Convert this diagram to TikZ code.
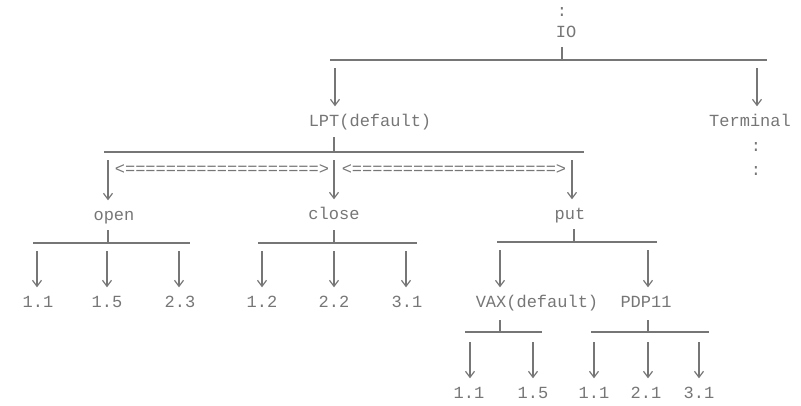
\documentclass[tikz,border=0pt]{standalone}
\usepackage{fontspec}
\newfontfamily\monofnt{Liberation Mono}
\usetikzlibrary{arrows.meta}
\definecolor{ink}{RGB}{118,118,118}
\tikzset{
  lbl/.style={font=\monofnt\fontsize{17}{17}\selectfont, text=ink, inner sep=0pt, text height=11pt, text depth=0pt, anchor=center},
  bar/.style={draw=ink, line width=1.2pt},
  arr/.style={draw=ink, line width=1.2pt, -{Straight Barb[length=6pt,width=9pt]}, shorten >=9pt},
}
\begin{document}
\begin{tikzpicture}[x=1pt,y=-1pt]
\useasboundingbox (0,0) rectangle (801,405);
% labels
\node[lbl] (top) at (562,11) {:};
\node[lbl] (io) at (566,32) {IO};
\node[lbl] (lpt) at (370,121) {LPT(default)};
\node[lbl] (term) at (750,121) {Terminal};
\node[lbl] (tc1) at (756,146) {:};
\node[lbl] (tc2) at (756,170) {:};
\node[lbl] (eq1) at (222,169) {<===================>};
\node[lbl] (eq2) at (454,169) {<====================>};
\node[lbl] (open) at (114,215) {open};
\node[lbl] (close) at (334,214) {close};
\node[lbl] (put) at (570,214) {put};
\node[lbl] (o1) at (38,302) {1.1};
\node[lbl] (o2) at (107,302) {1.5};
\node[lbl] (o3) at (180,302) {2.3};
\node[lbl] (c1) at (262,302) {1.2};
\node[lbl] (c2) at (334,302) {2.2};
\node[lbl] (c3) at (407,302) {3.1};
\node[lbl] (vax) at (537,302) {VAX(default)};
\node[lbl] (pdp) at (646,302) {PDP11};
\node[lbl] (v1) at (469,393) {1.1};
\node[lbl] (v2) at (533,393) {1.5};
\node[lbl] (p1) at (594,393) {1.1};
\node[lbl] (p2) at (646,393) {2.1};
\node[lbl] (p3) at (699,393) {3.1};
% IO level
\coordinate (ioL) at (330,60); \coordinate (ioR) at (767,60);
\coordinate (ioT) at (562,47); \coordinate (ioB) at (562,60);
\draw[bar] (ioL) -- (ioR); \draw[bar] (ioT) -- (ioB);
\coordinate (a_lpt) at (335,68); \coordinate (a_term) at (757,68);
\draw[arr] (a_lpt) -- (a_lpt |- lpt.north);
\draw[arr] (a_term) -- (a_term |- term.north);
% LPT level
\coordinate (lL) at (104,152); \coordinate (lR) at (584,152);
\coordinate (lT) at (334,137); \coordinate (lB) at (334,152);
\draw[bar] (lL) -- (lR); \draw[bar] (lT) -- (lB);
\coordinate (a_open) at (108,160); \coordinate (a_close) at (334,160); \coordinate (a_put) at (572,160);
\draw[arr] (a_open) -- (a_open |- open.north);
\draw[arr] (a_close) -- (a_close |- close.north);
\draw[arr] (a_put) -- (a_put |- put.north);
% open level
\coordinate (oL) at (33,243); \coordinate (oR) at (190,243);
\coordinate (oT) at (108,230); \coordinate (oB) at (108,243);
\draw[bar] (oL) -- (oR); \draw[bar] (oT) -- (oB);
\coordinate (a_o1) at (37,251); \coordinate (a_o2) at (107,251); \coordinate (a_o3) at (179,251);
\draw[arr] (a_o1) -- (a_o1 |- o1.north);
\draw[arr] (a_o2) -- (a_o2 |- o2.north);
\draw[arr] (a_o3) -- (a_o3 |- o3.north);
% close level
\coordinate (cL) at (258,243); \coordinate (cR) at (417,243);
\coordinate (cT) at (334,230); \coordinate (cB) at (334,243);
\draw[bar] (cL) -- (cR); \draw[bar] (cT) -- (cB);
\coordinate (a_c1) at (262,251); \coordinate (a_c2) at (334,251); \coordinate (a_c3) at (406,251);
\draw[arr] (a_c1) -- (a_c1 |- c1.north);
\draw[arr] (a_c2) -- (a_c2 |- c2.north);
\draw[arr] (a_c3) -- (a_c3 |- c3.north);
% put level
\coordinate (pL) at (497,242); \coordinate (pR) at (657,242);
\coordinate (pT) at (574,229); \coordinate (pB) at (574,242);
\draw[bar] (pL) -- (pR); \draw[bar] (pT) -- (pB);
\coordinate (a_vax) at (500,250); \coordinate (a_pdp) at (648,250);
\draw[arr] (a_vax) -- (a_vax |- vax.north);
\draw[arr] (a_pdp) -- (a_pdp |- pdp.north);
% VAX level
\coordinate (vL) at (465,332); \coordinate (vR) at (542,332);
\coordinate (vT) at (500,320); \coordinate (vB) at (500,332);
\draw[bar] (vL) -- (vR); \draw[bar] (vT) -- (vB);
\coordinate (a_v1) at (470,342); \coordinate (a_v2) at (533,342);
\draw[arr] (a_v1) -- (a_v1 |- v1.north);
\draw[arr] (a_v2) -- (a_v2 |- v2.north);
% PDP level
\coordinate (dL) at (591,332); \coordinate (dR) at (709,332);
\coordinate (dT) at (648,320); \coordinate (dB) at (648,332);
\draw[bar] (dL) -- (dR); \draw[bar] (dT) -- (dB);
\coordinate (a_p1) at (594,342); \coordinate (a_p2) at (648,342); \coordinate (a_p3) at (699,342);
\draw[arr] (a_p1) -- (a_p1 |- p1.north);
\draw[arr] (a_p2) -- (a_p2 |- p2.north);
\draw[arr] (a_p3) -- (a_p3 |- p3.north);
\end{tikzpicture}
\end{document}
